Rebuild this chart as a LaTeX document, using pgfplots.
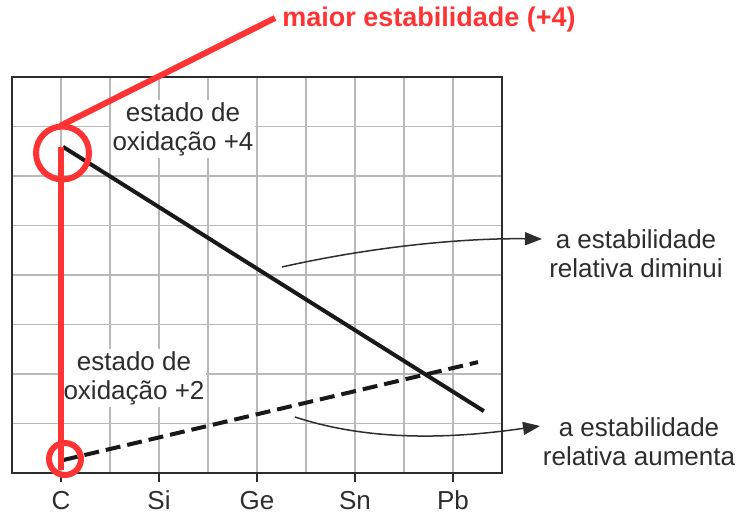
\documentclass[border=0pt]{standalone}
\usepackage{fontspec}
\setmainfont{Liberation Sans}
\usepackage{pgfplots}
\pgfplotsset{compat=1.18}
\usetikzlibrary{arrows.meta,calc}
\definecolor{redann}{RGB}{255,51,51}
\definecolor{gridgray}{RGB}{185,185,185}
\definecolor{txt}{RGB}{45,45,45}
\newcommand{\lbl}{\fontsize{13bp}{14.5bp}\selectfont}

\begin{document}
\begin{tikzpicture}
\begin{axis}[
    name=ax,
    scale only axis,
    width=245bp,
    height=198bp,
    xmin=-1, xmax=9,
    ymin=0, ymax=8,
    xtick={0,2,4,6,8},
    xticklabels={C,Si,Ge,Sn,Pb},
    minor xtick={-1,1,3,5,7,9},
    ytick={0,1,...,8},
    yticklabels={},
    grid=both,
    major grid style={gridgray, line width=0.75bp},
    minor grid style={gridgray, line width=0.75bp},
    xtick pos=left,
    tick align=outside,
    major x tick style={txt, line width=0.75bp},
    major tick length=4.5bp,
    minor x tick style={draw=none},
    ytick style={draw=none},
    xticklabel style={font=\lbl, text=txt, yshift=-1bp},
    axis line style={txt, line width=1bp},
    clip=false,
]
% estado de oxidacao +4
\addplot[black!90, line width=2bp] coordinates {(0.04,6.59) (8.63,1.25)};
% estado de oxidacao +2
\addplot[black!90, line width=2bp, dash pattern=on 7.5bp off 3.5bp] coordinates {(0.04,0.26) (8.51,2.24)};
\end{axis}

\begin{scope}[x=0.5bp, y=-0.5bp, shift={($(ax.north west)+(-6bp,38.5bp)$)}]
  \node[font=\lbl, text=txt, align=center, fill=white, inner sep=1bp] at (183,129) {estado de\\oxidação +4};
  \node[font=\lbl, text=txt, align=center, fill=white, inner sep=1bp] at (134,378) {estado de\\oxidação +2};
  \node[font=\lbl, text=txt, align=center] at (636,254) {a estabilidade\\relativa diminui};
  \node[font=\lbl, text=txt, align=center] at (639,442) {a estabilidade\\relativa aumenta};
  \node[font=\fontsize{13.5bp}{15bp}\selectfont\bfseries, text=redann] at (429,20) {maior estabilidade (+4)};

  \draw[redann, line width=3bp] (61,147) -- (61,470);
  \draw[redann, line width=3bp] (60,126) -- (275,18);
  \draw[redann, line width=3bp] (62.5,153) circle[radius=13.25bp];
  \draw[redann, line width=3bp] (65,459) circle[radius=8bp];

  \draw[txt, line width=0.75bp, -{Triangle[length=8.5bp,width=6.5bp]}]
    (282,267) .. controls (380,245) and (470,238) .. (542,239);
  \draw[txt, line width=0.75bp, -{Triangle[length=8.5bp,width=6.5bp]}]
    (295,417) .. controls (380,445) and (470,436) .. (540,426);

  \pgfresetboundingbox
  \path[use as bounding box] (0,0) rectangle (740,513);
\end{scope}
\end{tikzpicture}
\end{document}
